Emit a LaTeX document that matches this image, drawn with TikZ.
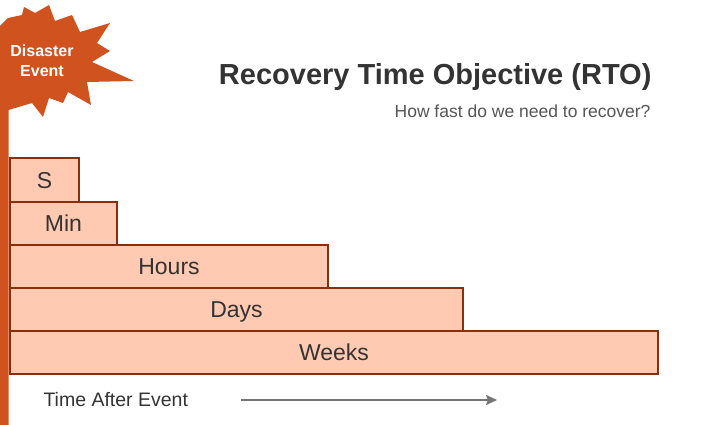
\documentclass[tikz,border=0pt]{standalone}
\usepackage{fontspec}
\setmainfont{Liberation Sans}
\usetikzlibrary{arrows.meta}
\definecolor{burst}{HTML}{D0521F}
\definecolor{barfill}{HTML}{FFCAB1}
\definecolor{barline}{HTML}{8A2E0B}
\definecolor{txt}{HTML}{333333}
\definecolor{sub}{HTML}{555555}
\definecolor{arr}{HTML}{757575}
\tikzset{
  bar/.style={draw=barline, fill=barfill, line width=2pt},
  bartext/.style={font=\fontsize{23}{27}\selectfont, text=txt, anchor=base},
}
\begin{document}
\begin{tikzpicture}[x=1pt,y=-1pt]
\useasboundingbox (0,0) rectangle (725,425);
% starburst + pole
\fill[burst] (0,425) -- (0,26) -- (8,18) -- (22,15) -- (24,7) -- (35,13) -- (49,5) -- (55,21) -- (72,15) -- (80,32) -- (110,23) -- (97,43) -- (110,51) -- (92,62) -- (134,81) -- (87,82) -- (91,105) -- (68,92) -- (63,103) -- (49,98) -- (43,117) -- (32,103) -- (8.5,110) -- (8.5,425) -- cycle;
\node[text=white, font=\bfseries\fontsize{16}{20}\selectfont, align=center] (ev) at (42,61) {Disaster\\Event};
% bars
\path[bar] (10,158) rectangle (79,201.5);
\node[bartext] (s) at (44.5,188) {S};
\path[bar] (10,201.5) rectangle (117,244.5);
\node[bartext] (min) at (63.5,231) {Min};
\path[bar] (10,244.5) rectangle (328,287.5);
\node[bartext] (hours) at (169,274) {Hours};
\path[bar] (10,287.5) rectangle (463,330.5);
\node[bartext] (days) at (236.5,317) {Days};
\path[bar] (10,330.5) rectangle (658,374);
\node[bartext] (weeks) at (334,360) {Weeks};
% title
\node[anchor=east, text=txt, font=\bfseries\fontsize{29}{34}\selectfont] (title) at (655,77) {Recovery Time Objective (RTO)};
\node[anchor=east, text=sub, font=\fontsize{17.5}{20}\selectfont] (subt) at (654,111) {How fast do we need to recover?};
% axis
\node[anchor=west, text=txt, font=\fontsize{19.5}{23}\selectfont] (tae) at (40,400) {Time After Event};
\coordinate (a1) at (241,400);
\coordinate (a2) at (497,400);
\draw[arr, line width=2pt, -{Stealth[length=11pt,width=10pt,inset=2pt]}] (a1) -- (a2);
\end{tikzpicture}
\end{document}
